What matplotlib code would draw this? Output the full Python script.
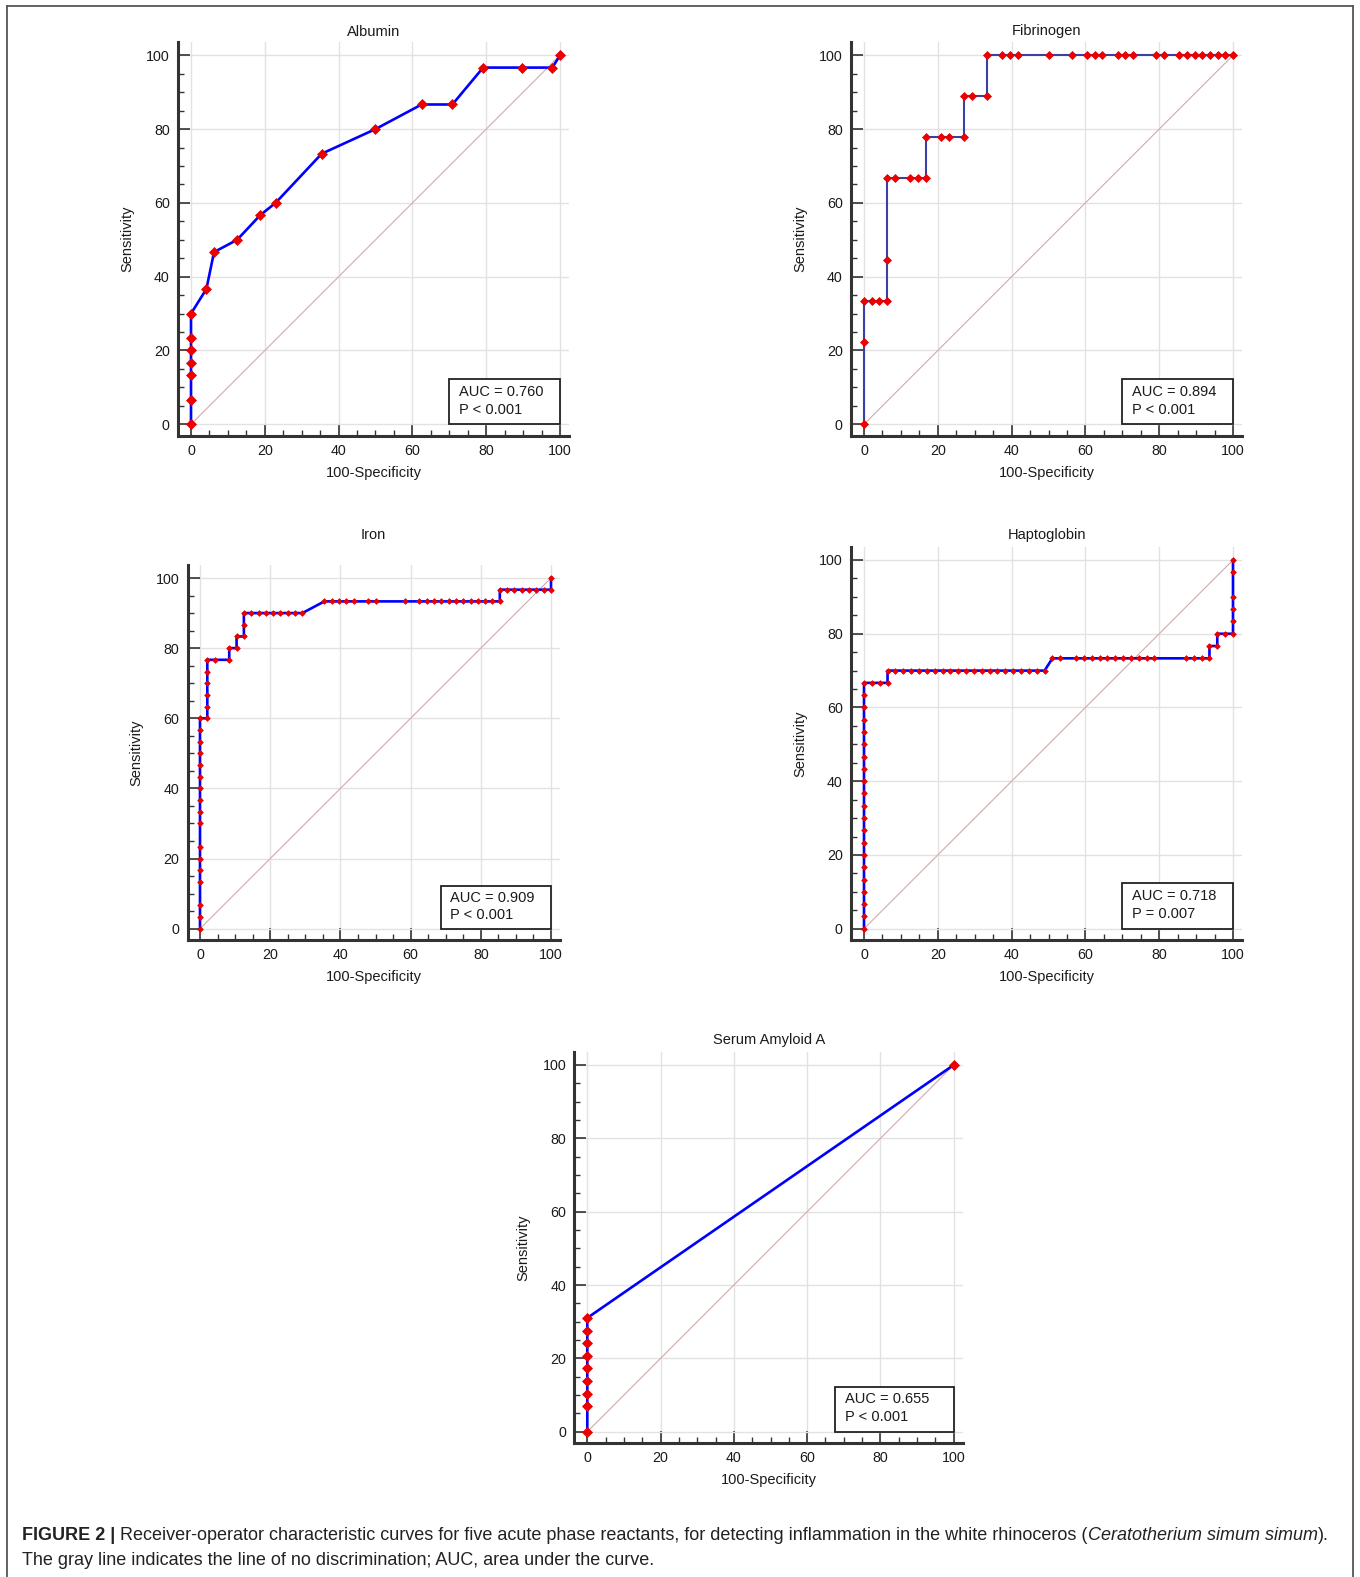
import matplotlib.pyplot as plt
from matplotlib.patches import Rectangle
from matplotlib.ticker import MultipleLocator

plt.rcParams['font.family'] = ['Liberation Sans', 'DejaVu Sans']

W, H = 1360, 1577

# ROC points (100-Specificity, Sensitivity)
albumin_x = [0, 0, 0, 0, 0, 0, 0, 4.17, 6.25, 12.5, 18.75, 22.92, 35.42, 50, 62.5,
             70.83, 79.17, 89.58, 97.92, 100]
albumin_y = [0, 6.67, 13.33, 16.67, 20, 23.33, 30, 36.67, 46.67, 50, 56.67, 60, 73.33,
             80, 86.67, 86.67, 96.67, 96.67, 96.67, 100]

fib_x = [0, 0, 0, 2.08, 4.17, 6.25, 6.25, 6.25, 8.33, 12.5, 14.58, 16.67, 16.67, 20.83,
         22.92, 27.08, 27.08, 29.17, 33.33, 33.33, 37.5, 39.58, 41.67, 50, 56.25, 60.42,
         62.5, 64.58, 68.75, 70.83, 72.92, 79.17, 81.25, 85.42, 87.5, 89.58, 91.67, 93.75,
         95.83, 97.92, 100]
fib_y = [0, 22.22, 33.33, 33.33, 33.33, 33.33, 44.44, 66.67, 66.67, 66.67, 66.67, 66.67,
         77.78, 77.78, 77.78, 77.78, 88.89, 88.89, 88.89, 100, 100, 100, 100, 100, 100, 100,
         100, 100, 100, 100, 100, 100, 100, 100, 100, 100, 100, 100, 100, 100, 100]

iron_x = [0, 0, 0, 0, 0, 0, 0, 0, 0, 0, 0, 0, 0, 0, 0, 0, 0,
          2.08, 2.08, 2.08, 2.08, 2.08, 2.08,
          4.17, 8.33, 8.33, 10.42, 10.42, 12.5, 12.5, 12.5,
          14.58, 16.67, 18.75, 20.83, 22.92, 25, 27.08, 29.17,
          35.42, 37.5, 39.58, 41.67, 43.75, 47.92, 50, 58.33, 62.5, 64.58, 66.67, 68.75,
          70.83, 72.92, 75, 77.08, 79.17, 81.25, 83.33, 85.42,
          85.42, 87.5, 89.58, 91.67, 93.75, 95.83, 97.92, 100,
          100]
iron_y = [0, 3.33, 6.67, 13.33, 16.67, 20, 23.33, 30, 33.33, 36.67, 40, 43.33, 46.67, 50,
          53.33, 56.67, 60,
          60, 63.33, 66.67, 70, 73.33, 76.67,
          76.67, 76.67, 80, 80, 83.33, 83.33, 86.67, 90,
          90, 90, 90, 90, 90, 90, 90, 90,
          93.33, 93.33, 93.33, 93.33, 93.33, 93.33, 93.33, 93.33, 93.33, 93.33, 93.33, 93.33,
          93.33, 93.33, 93.33, 93.33, 93.33, 93.33, 93.33, 93.33,
          96.67, 96.67, 96.67, 96.67, 96.67, 96.67, 96.67, 96.67,
          100]

hapto_x = [0, 0, 0, 0, 0, 0, 0, 0, 0, 0, 0, 0, 0, 0, 0, 0, 0, 0, 0, 0, 0,
           2.13, 4.26, 6.38, 6.38,
           8.51, 10.64, 12.77, 14.89, 17.02, 19.15, 21.28, 23.4, 25.53, 27.66, 29.79, 31.91,
           34.04, 36.17, 38.3, 40.43, 42.55, 44.68, 46.81, 48.94,
           51.06, 53.19, 57.45, 59.57, 61.7, 63.83, 65.96, 68.09, 70.21, 72.34, 74.47, 76.6,
           78.72, 87.23, 89.36, 91.49, 93.62,
           93.62, 95.74, 95.74, 97.87, 100, 100, 100, 100, 100, 100]
hapto_y = [0, 3.33, 6.67, 10, 13.33, 16.67, 20, 23.33, 26.67, 30, 33.33, 36.67, 40, 43.33,
           46.67, 50, 53.33, 56.67, 60, 63.33, 66.67,
           66.67, 66.67, 66.67, 70,
           70, 70, 70, 70, 70, 70, 70, 70, 70, 70, 70, 70,
           70, 70, 70, 70, 70, 70, 70, 70,
           73.33, 73.33, 73.33, 73.33, 73.33, 73.33, 73.33, 73.33, 73.33, 73.33, 73.33, 73.33,
           73.33, 73.33, 73.33, 73.33, 73.33,
           76.67, 76.67, 80, 80, 80, 83.33, 86.67, 90, 96.67, 100]

saa_x = [0, 0, 0, 0, 0, 0, 0, 0, 0, 100]
saa_y = [0, 6.9, 10.34, 13.79, 17.24, 20.69, 24.14, 27.59, 31.03, 100]

titles = ['Albumin', 'Fibrinogen', 'Iron', 'Haptoglobin', 'Serum Amyloid A']
auc_text = ['AUC = 0.760', 'AUC = 0.894', 'AUC = 0.909', 'AUC = 0.718', 'AUC = 0.655']
p_text = ['P < 0.001', 'P < 0.001', 'P < 0.001', 'P = 0.007', 'P < 0.001']

XLIM = (-3.5, 102.5)
YLIM = (-3.1, 103.6)

fig = plt.figure(figsize=(W / 100, H / 100), dpi=100)


def make_axes(x0, x100, y0, y100):
    # pixel positions of data 0 and 100 on each axis
    sx = (x100 - x0) / 100
    sy = (y0 - y100) / 100
    left = x0 + XLIM[0] * sx
    right = x0 + XLIM[1] * sx
    bottom = y0 - YLIM[0] * sy
    top = y0 - YLIM[1] * sy
    return fig.add_axes([left / W, 1 - bottom / H, (right - left) / W, (bottom - top) / H])


def roc_panel(ax, xs, ys, title, title_y, auc, p, color='#0000ff', lw=1.9, ms=4.8,
              box_left=70):
    ax.set_xlim(*XLIM)
    ax.set_ylim(*YLIM)
    for s in ['top', 'right']:
        ax.spines[s].set_visible(False)
    for s in ['left', 'bottom']:
        ax.spines[s].set_linewidth(2.2)
        ax.spines[s].set_color('#333333')
    ax.xaxis.set_major_locator(MultipleLocator(20))
    ax.yaxis.set_major_locator(MultipleLocator(20))
    ax.xaxis.set_minor_locator(MultipleLocator(5))
    ax.yaxis.set_minor_locator(MultipleLocator(5))
    ax.tick_params(which='major', direction='in', length=8.5, width=1.2, color='#333333',
                   labelsize=10.3, pad=6, labelcolor='#1a1a1a')
    ax.tick_params(which='minor', direction='in', length=4.5, width=1.0, color='#333333')
    ax.grid(True, which='major', color='#e2e2e2', linewidth=1.0)
    ax.set_axisbelow(True)

    ax.plot([0, 100], [0, 100], color='#cfabab', linewidth=0.8, zorder=2)
    ax.plot(xs, ys, color=color, linewidth=lw, zorder=3)
    ax.plot(xs, ys, linestyle='none', marker='D', markersize=ms, color='#ee0000',
            markeredgecolor='#dd0000', markeredgewidth=0.5, zorder=4, clip_on=False)

    bb = ax.get_position()
    wpx = bb.width * W
    hpx = bb.height * H
    fig.text(bb.x0 + bb.width / 2, 1 - title_y / H, title, fontsize=10.5, ha='center',
             va='center', color='#1a1a1a')
    ax.set_xlabel('100-Specificity', fontsize=10.5, color='#1a1a1a')
    ax.xaxis.label.set_va('center')
    ax.xaxis.set_label_coords(0.5, -37 / hpx)
    ax.set_ylabel('Sensitivity', fontsize=10.5, color='#1a1a1a')
    ax.yaxis.label.set_va('center')
    ax.yaxis.set_label_coords(-51 / wpx, 0.5)

    ax.add_patch(Rectangle((box_left, 0), 100 - box_left, 12.3, facecolor='white',
                           edgecolor='#222222', linewidth=1.3, zorder=5))
    ax.text(box_left + 2.5, 8.8, auc, fontsize=10.5, va='center', ha='left', zorder=6,
            color='#1a1a1a')
    ax.text(box_left + 2.5, 3.9, p, fontsize=10.5, va='center', ha='left', zorder=6,
            color='#1a1a1a')


ax1 = make_axes(191, 560, 424.3, 55.3)
roc_panel(ax1, albumin_x, albumin_y, titles[0], 31.5, auc_text[0], p_text[0])

ax2 = make_axes(864, 1233, 424.3, 55.3)
roc_panel(ax2, fib_x, fib_y, titles[1], 31.5, auc_text[1], p_text[1], color='#3a40a8',
          lw=1.5, ms=4.4)

ax3 = make_axes(200, 551, 928.7, 578)
roc_panel(ax3, iron_x, iron_y, titles[2], 535, auc_text[2], p_text[2], lw=1.9, ms=2.9,
          box_left=68.7)

ax4 = make_axes(864, 1233, 928.7, 560)
roc_panel(ax4, hapto_x, hapto_y, titles[3], 535, auc_text[3], p_text[3], lw=1.9, ms=2.9)

ax5 = make_axes(587.3, 953.7, 1431.7, 1065)
roc_panel(ax5, saa_x, saa_y, titles[4], 1040, auc_text[4], p_text[4], box_left=67.7)

# outer frame (open at the bottom)
frame = dict(transform=fig.transFigure, color='#555555', linewidth=1.3)
fig.add_artist(plt.Line2D([7 / W, 7 / W], [0, 1 - 6 / H], **frame))
fig.add_artist(plt.Line2D([7 / W, 1353 / W], [1 - 6 / H, 1 - 6 / H], **frame))
fig.add_artist(plt.Line2D([1353 / W, 1353 / W], [0, 1 - 6 / H], **frame))

# caption
cap_size = 13
t = fig.text(22 / W, 1 - 1540 / H, 'FIGURE 2 | ', fontsize=cap_size, fontweight='bold',
             color='#222222', va='baseline')
pieces = [
    ('Receiver-operator characteristic curves for five acute phase reactants, for detecting '
     'inflammation in the white rhinoceros (', 'normal'),
    ('Ceratotherium simum simum', 'italic'),
    (').', 'normal'),
]
prev = t
for txt, style in pieces:
    prev = plt.annotate(txt, xy=(1, 0), xycoords=prev, va='bottom', ha='left',
                        fontsize=cap_size, fontstyle=style, color='#222222',
                        annotation_clip=False)
fig.text(22 / W, 1 - 1565 / H, 'The gray line indicates the line of no discrimination; AUC, '
         'area under the curve.', fontsize=cap_size, color='#222222', va='baseline')

fig.savefig('out.png', dpi=100)
